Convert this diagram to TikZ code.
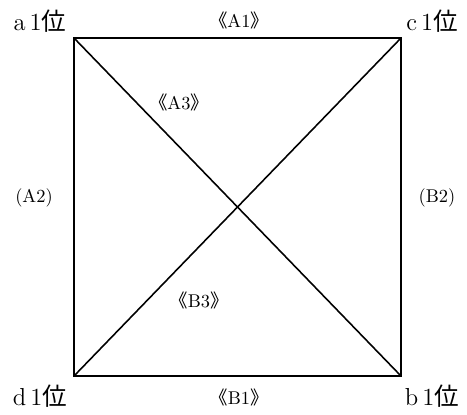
\documentclass[tikz,border=0pt]{standalone}
\usepackage{fontspec}
\newfontfamily\cjk{Noto Sans CJK JP}
\begin{document}
\begin{tikzpicture}[x=0.02cm, y=-0.02cm, line width=0.9pt, every node/.style={font=\fontsize{10.5}{12}\selectfont, inner sep=0pt}]
        \useasboundingbox (0,0) rectangle (467,414);
        \coordinate (a) at (74,38);
        \coordinate (c) at (401,38);
        \coordinate (b) at (401,376);
        \coordinate (d) at (74,376);
        \draw (a) -- (c) -- (b) -- (d) -- cycle;
        \draw (a) -- (b);
        \draw (c) -- (d);
        \node[font=\fontsize{14}{16}\selectfont] (apos) at (40,21) {a\,1{\cjk 位}};
        \node[font=\fontsize{14}{16}\selectfont] (cpos) at (432,21) {c\,1{\cjk 位}};
        \node[font=\fontsize{14}{16}\selectfont] (dpos) at (40,396) {d\,1{\cjk 位}};
        \node[font=\fontsize{14}{16}\selectfont] (bpos) at (432,396) {b\,1{\cjk 位}};
        \node (aone) at (239,20) {{\cjk 《}A1{\cjk 》}};
        \node (atwo) at (34,198) {(A2)};
        \node (athree) at (179,102) {{\cjk 《}A3{\cjk 》}};
        \node (bone) at (239,397) {{\cjk 《}B1{\cjk 》}};
        \node (btwo) at (437,198) {(B2)};
        \node (bthree) at (199,300) {{\cjk 《}B3{\cjk 》}};
\end{tikzpicture}
\end{document}
